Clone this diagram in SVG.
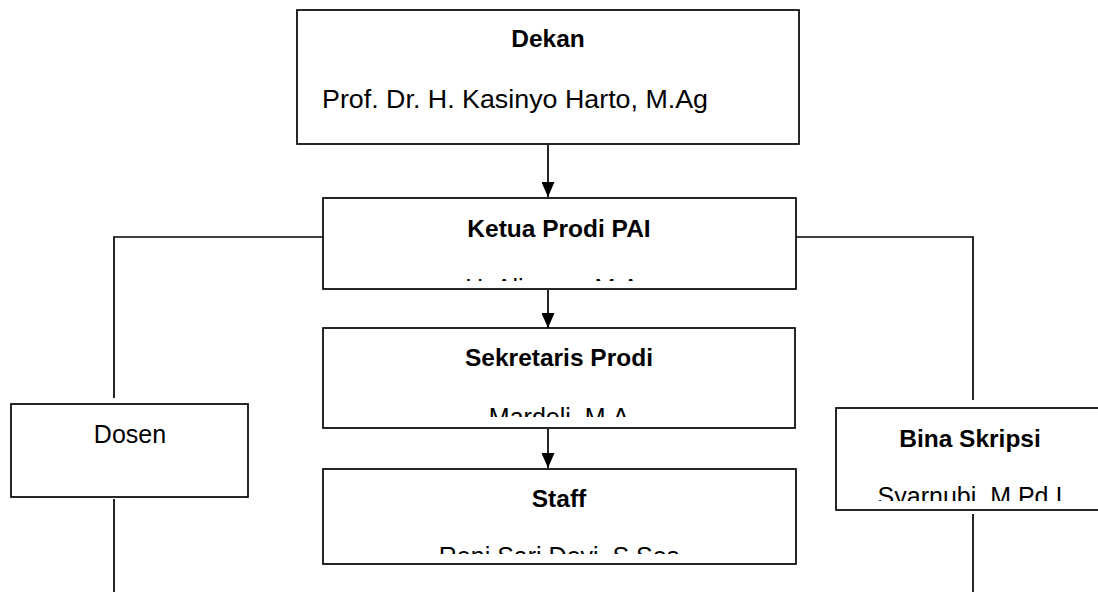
<svg xmlns="http://www.w3.org/2000/svg" width="1098" height="592" viewBox="0 0 1098 592">
<defs>
<style>
.box{fill:#fff;stroke:#000;stroke-width:1.7}
.ln{fill:none;stroke:#000;stroke-width:1.7}
.t{font-family:"Liberation Sans",Arial,sans-serif;font-size:24.5px;fill:#000}
.b{font-weight:bold;text-anchor:middle}
.r{font-size:25px}
.c{text-anchor:middle}
</style>
<marker id="ah" viewBox="0 0 15 13" refX="15" refY="6.5" markerWidth="15" markerHeight="13" markerUnits="userSpaceOnUse" orient="auto">
<path d="M0,0 L15,6.5 L0,13 z" fill="#000"/>
</marker>
<clipPath id="cK"><rect x="324" y="199" width="471" height="82"/></clipPath>
<clipPath id="cS"><rect x="324" y="329" width="471" height="88"/></clipPath>
<clipPath id="cT"><rect x="324" y="470" width="471" height="84"/></clipPath>
<clipPath id="cB"><rect x="837" y="409" width="261" height="92"/></clipPath>
</defs>
<g id="connectors">
<line class="ln" x1="548" y1="145" x2="548" y2="197" marker-end="url(#ah)"/>
<line class="ln" x1="548" y1="290" x2="548" y2="328" marker-end="url(#ah)"/>
<line class="ln" x1="548" y1="429" x2="548" y2="468" marker-end="url(#ah)"/>
<polyline class="ln" points="323,237 114,237 114,398"/>
<line class="ln" x1="114" y1="499" x2="114" y2="592"/>
<polyline class="ln" points="796,237 973,237 973,400"/>
<line class="ln" x1="973" y1="514" x2="973" y2="592"/>
</g>
<g id="dekan">
<rect class="box" x="297" y="10" width="502" height="134"/>
<text class="t b" x="548" y="47">Dekan</text>
<text class="t r" x="322" y="108" textLength="386" lengthAdjust="spacingAndGlyphs">Prof. Dr. H. Kasinyo Harto, M.Ag</text>
</g>
<g id="ketua">
<rect class="box" x="323" y="198" width="473" height="91"/>
<text class="t b" x="559" y="237">Ketua Prodi PAI</text>
<text class="t r c" x="559" y="297" clip-path="url(#cK)">H. Alimron, M.Ag</text>
</g>
<g id="sekretaris">
<rect class="box" x="323" y="328" width="472" height="100"/>
<text class="t b" x="559" y="366">Sekretaris Prodi</text>
<text class="t r c" x="559" y="426" clip-path="url(#cS)">Mardeli, M.A</text>
</g>
<g id="staff">
<rect class="box" x="323" y="469" width="473" height="95"/>
<text class="t b" x="559" y="507">Staff</text>
<text class="t r c" x="559" y="565" clip-path="url(#cT)">Reni Sari Devi, S.Sos</text>
</g>
<g id="dosen">
<rect class="box" x="11" y="404" width="237" height="93"/>
<text class="t r c" x="130" y="443">Dosen</text>
</g>
<g id="bina">
<rect class="box" x="836" y="408" width="270" height="102"/>
<text class="t b" x="970" y="447">Bina Skripsi</text>
<text class="t r c" x="970" y="505" clip-path="url(#cB)">Syarnubi, M.Pd.I</text>
</g>
</svg>
